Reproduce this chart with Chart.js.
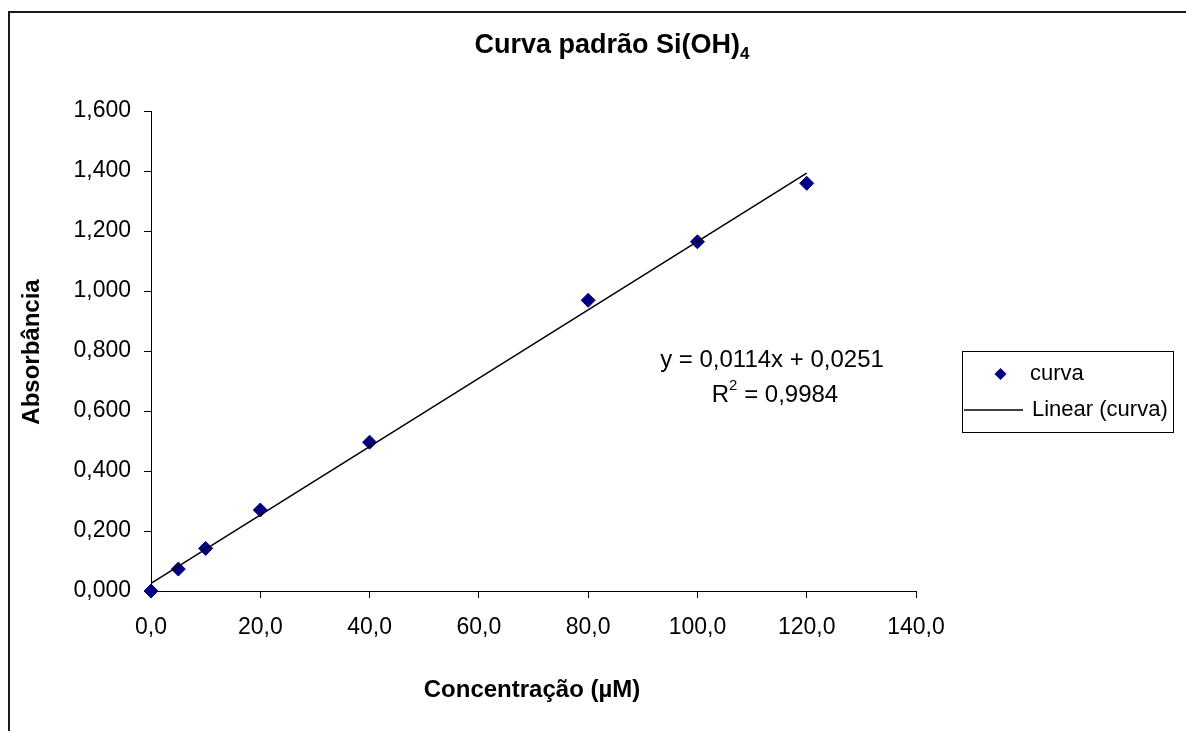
<!DOCTYPE html>
<html>
<head>
<meta charset="utf-8">
<script src="https://cdn.jsdelivr.net/npm/chart.js@4/dist/chart.umd.min.js"></script>
<style>
  html, body { margin: 0; padding: 0; background: #fff; }
  canvas { display: block; }
</style>
</head>
<body>
<canvas id="c" width="1186" height="731"></canvas>
<script>
// Standard curve: concentration (µM) vs absorbance
const concentrations = [0, 5, 10, 20, 40, 80, 100, 120];
const absorbances = [0.000, 0.073, 0.142, 0.270, 0.496, 0.969, 1.164, 1.359];

// Linear fit as reported on the chart
const slope = 0.0114;
const intercept = 0.0251;
const rSquared = 0.9984;

// Axis ticks
const xTicks = [0, 20, 40, 60, 80, 100, 120, 140];
const xTickLabels = ['0,0', '20,0', '40,0', '60,0', '80,0', '100,0', '120,0', '140,0'];
const yTicks = [0, 0.2, 0.4, 0.6, 0.8, 1.0, 1.2, 1.4, 1.6];
const yTickLabels = ['0,000', '0,200', '0,400', '0,600', '0,800', '1,000', '1,200', '1,400', '1,600'];

const FONT = "'Liberation Sans', Arial, sans-serif";
const fmt = (v, d) => v.toFixed(d).replace('.', ',');

const points = concentrations.map((x, i) => ({ x, y: absorbances[i] }));
const fitLine = [concentrations[0], concentrations[concentrations.length - 1]]
  .map(x => ({ x, y: slope * x + intercept }));

const decorations = {
  id: 'decorations',
  afterDraw(chart) {
    const ctx = chart.ctx;
    ctx.save();

    // outer frame
    ctx.strokeStyle = '#1a1a1a';
    ctx.lineWidth = 2;
    ctx.beginPath();
    ctx.moveTo(9, 2000);
    ctx.lineTo(9, 12);
    ctx.lineTo(2000, 12);
    ctx.stroke();

    ctx.fillStyle = '#000';

    // title with subscript
    ctx.font = 'bold 27px ' + FONT;
    const main = 'Curva padrão Si(OH)';
    const wMain = ctx.measureText(main).width;
    ctx.font = 'bold 17px ' + FONT;
    const wSub = ctx.measureText('4').width;
    const tx = 612 - (wMain + wSub) / 2;
    ctx.textBaseline = 'alphabetic';
    ctx.textAlign = 'left';
    ctx.font = 'bold 27px ' + FONT;
    ctx.fillText(main, tx, 53);
    ctx.font = 'bold 17px ' + FONT;
    ctx.fillText('4', tx + wMain, 59);

    // axis titles
    ctx.font = 'bold 24px ' + FONT;
    ctx.textAlign = 'center';
    ctx.textBaseline = 'middle';
    ctx.fillText('Concentração (µM)', 532, 690);
    ctx.save();
    ctx.translate(32, 352);
    ctx.rotate(-Math.PI / 2);
    ctx.fillText('Absorbância', 0, 0);
    ctx.restore();

    // regression equation
    ctx.font = '24px ' + FONT;
    ctx.fillText('y = ' + fmt(slope, 4) + 'x + ' + fmt(intercept, 4), 772, 360);
    const r1 = 'R', r3 = ' = ' + fmt(rSquared, 4);
    ctx.font = '24px ' + FONT;
    const wR = ctx.measureText(r1).width, wV = ctx.measureText(r3).width;
    ctx.font = '15px ' + FONT;
    const w2 = ctx.measureText('2').width;
    let rx = 775 - (wR + w2 + wV) / 2;
    ctx.textAlign = 'left';
    ctx.font = '24px ' + FONT;
    ctx.fillText(r1, rx, 395);
    ctx.font = '15px ' + FONT;
    ctx.fillText('2', rx + wR, 386);
    ctx.font = '24px ' + FONT;
    ctx.fillText(r3, rx + wR + w2, 395);

    // legend
    ctx.strokeStyle = '#000';
    ctx.lineWidth = 1;
    ctx.strokeRect(962.5, 351.5, 211, 81);
    const ds0 = chart.data.datasets[0];
    ctx.fillStyle = ds0.backgroundColor;
    ctx.beginPath();
    ctx.moveTo(1000.5, 368);
    ctx.lineTo(1006.5, 374);
    ctx.lineTo(1000.5, 380);
    ctx.lineTo(994.5, 374);
    ctx.closePath();
    ctx.fill();
    ctx.strokeStyle = chart.data.datasets[1].borderColor;
    ctx.lineWidth = 1.5;
    ctx.beginPath();
    ctx.moveTo(964, 410);
    ctx.lineTo(1023, 410);
    ctx.stroke();
    ctx.fillStyle = '#000';
    ctx.font = '22px ' + FONT;
    ctx.textBaseline = 'middle';
    ctx.fillText(ds0.label, 1030, 374);
    ctx.fillText(chart.data.datasets[1].label, 1032, 410);

    ctx.restore();
  }
};

new Chart(document.getElementById('c'), {
  type: 'scatter',
  data: {
    datasets: [
      {
        label: 'curva',
        data: points,
        pointStyle: 'rectRot',
        pointRadius: 7,
        pointHoverRadius: 7,
        backgroundColor: '#000080',
        borderColor: '#000080',
        borderWidth: 1,
        clip: false,
        order: 1
      },
      {
        type: 'line',
        label: 'Linear (curva)',
        data: fitLine,
        borderColor: '#000',
        borderWidth: 1.5,
        pointRadius: 0,
        fill: false,
        clip: false,
        order: 0
      }
    ]
  },
  options: {
    responsive: false,
    devicePixelRatio: 1,
    animation: false,
    layout: { padding: { top: 111, right: 270, bottom: 0, left: 0 } },
    plugins: {
      legend: { display: false },
      tooltip: { enabled: false },
      title: { display: false }
    },
    scales: {
      x: {
        type: 'linear',
        min: 0,
        max: 140,
        afterBuildTicks: s => { s.ticks = xTicks.map(v => ({ value: v })); },
        afterFit: s => { s.height = 140; },
        grid: { drawOnChartArea: false, drawTicks: true, tickLength: 7, color: '#000', lineWidth: 1 },
        border: { display: true, color: '#000', width: 1 },
        ticks: {
          color: '#000',
          font: { family: FONT, size: 23 },
          padding: 16,
          maxRotation: 0,
          callback: v => xTickLabels[xTicks.indexOf(v)]
        }
      },
      y: {
        type: 'linear',
        min: 0,
        max: 1.6,
        afterBuildTicks: s => { s.ticks = yTicks.map(v => ({ value: v })); },
        afterFit: s => { s.width = 151; },
        grid: { drawOnChartArea: false, drawTicks: true, tickLength: 7, color: '#000', lineWidth: 1 },
        border: { display: true, color: '#000', width: 1 },
        ticks: {
          color: '#000',
          font: { family: FONT, size: 23 },
          padding: 13,
          callback: v => yTickLabels[yTicks.findIndex(t => Math.abs(t - v) < 1e-9)]
        }
      }
    }
  },
  plugins: [decorations]
});
</script>
</body>
</html>
